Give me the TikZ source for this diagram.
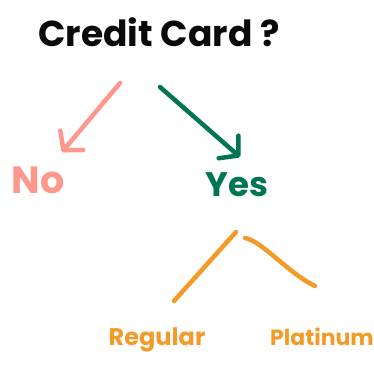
\documentclass[tikz,border=0pt]{standalone}
\usepackage{fontspec}
\setmainfont{Poppins}
\usetikzlibrary{arrows.meta}
\definecolor{inkblack}{HTML}{0A0A0A}
\definecolor{salmon}{HTML}{FF978C}
\definecolor{pine}{HTML}{007552}
\definecolor{amber}{HTML}{F39A27}
\tikzset{
  lbl/.style={inner sep=0pt, font=\bfseries},
  stroke/.style={line width=4.5pt, line cap=round, line join=round},
  barb/.style={stroke, -{Straight Barb[length=13pt,width=30pt,round]}},
}
\begin{document}
\begin{tikzpicture}[x=1pt,y=-1pt]
\useasboundingbox[fill=white] (0,0) rectangle (374,383);
\node[lbl, text=inkblack, font=\bfseries\fontsize{36}{40}\selectfont] (title) at (159,32) {Credit Card ?};
\node[lbl, text=salmon, font=\bfseries\fontsize{38}{40}\selectfont] (no) at (38,180) {No};
\node[lbl, text=pine, font=\bfseries\fontsize{34}{38}\selectfont] (yes) at (237,185) {Yes};
\node[lbl, text=amber, font=\bfseries\fontsize{24}{28}\selectfont] (reg) at (157,340) {Regular};
\node[lbl, text=amber, font=\bfseries\fontsize{22}{26}\selectfont] (plat) at (322,337) {Platinum};
\coordinate (noS) at (120,83);
\coordinate (noE) at (62,152);
\coordinate (yesS) at (160,87);
\coordinate (yesE) at (240,157);
\coordinate (regS) at (236,232);
\coordinate (regE) at (174,301);
\coordinate (platS) at (245,238);
\coordinate (platE) at (315,286);
\draw[barb, salmon] (noS) -- (noE);
\draw[barb, pine] (yesS) -- (yesE);
\draw[stroke, amber] (regS) -- (regE);
\draw[stroke, amber] (platS) .. controls (262,241) and (288,273) .. (platE);
\end{tikzpicture}
\end{document}
